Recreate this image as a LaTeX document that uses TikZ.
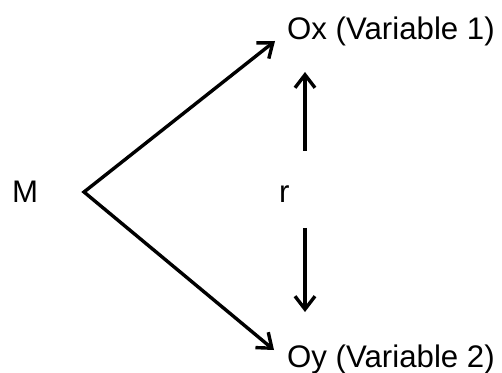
\documentclass[tikz,border=0pt]{standalone}
\usepackage{fontspec}
\setmainfont{Liberation Sans}
\usetikzlibrary{arrows.meta}
\begin{document}
\begin{tikzpicture}[x=1pt,y=1pt,
  lbl/.style={inner sep=0pt, anchor=base west, font=\fontsize{31.2}{36}\selectfont},
  tipb/.tip={Straight Barb[length=13pt,width=20pt,line width=3.4pt]},
  conn/.style={line width=3.4pt}]
\useasboundingbox (0,0) rectangle (502,372);
\node[lbl] (M) at (12,169) {M};
\node[lbl] (r) at (279,169) {r};
\node[lbl] (Ox) at (287,332) {Ox (Variable 1)};
\node[lbl] (Oy) at (287,5) {Oy (Variable 2)};
\coordinate (v) at (84,180);
\coordinate (ox) at (275,331);
\coordinate (oy) at (274,22);
\coordinate (rt) at (305,221);
\coordinate (rtt) at (305,300);
\coordinate (rb) at (305,144);
\coordinate (rbb) at (305,60);
\draw[conn, line join=miter, tipb-tipb] (ox) -- (v) -- (oy);
\draw[conn, -tipb] (rt) -- (rtt);
\draw[conn, -tipb] (rb) -- (rbb);
\end{tikzpicture}
\end{document}
